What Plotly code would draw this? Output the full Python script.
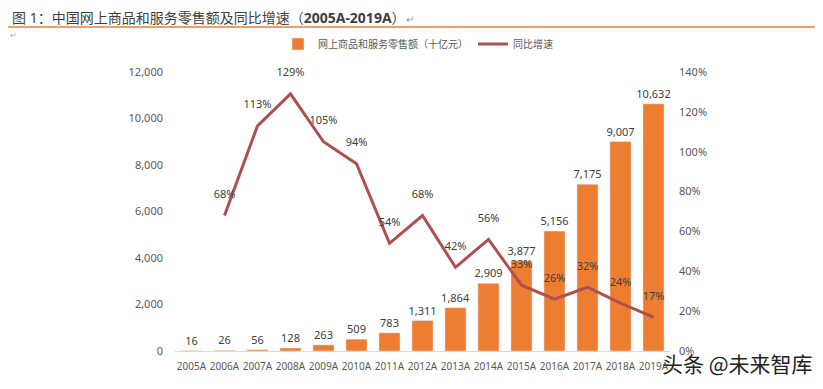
import plotly.graph_objects as go

years = ["2005A", "2006A", "2007A", "2008A", "2009A", "2010A", "2011A", "2012A",
         "2013A", "2014A", "2015A", "2016A", "2017A", "2018A", "2019A"]
sales = [16, 26, 56, 128, 263, 509, 783, 1311, 1864, 2909, 3877, 5156, 7175, 9007, 10632]
growth_years = years[1:]
growth = [68, 113, 129, 105, 94, 54, 68, 42, 56, 33, 26, 32, 24, 17]

bar_name = "网上商品和服务零售额（十亿元）"
line_name = "同比增速"
title_text = "图 1：中国网上商品和服务零售额及同比增速（<b>2005A-2019A</b>）<span style='font-size:10px;color:#999'>↵</span>"

FONT = "Noto Sans, Noto Sans CJK SC, sans-serif"
TXT = "#404040"
AX = "#595959"

# page body has an 8px default margin; layout is laid out in screen pixels minus that
OFF = 8
W, H = 823 - OFF, 389 - OFF
PL, PT, PW, PH = 175, 72, 495, 279  # plot area in screen pixels


def px(xs):
    return (xs - PL) / PW


def py(ys):
    return 1 - (ys - PT) / PH


fig = go.Figure()
fig.add_trace(go.Bar(
    x=years, y=sales, name=bar_name,
    marker=dict(color="#ED7D31"),
    width=0.64,
    text=[f"{v:,}" for v in sales], textposition="outside", constraintext="none",
    textfont=dict(size=11, color=TXT, family=FONT),
    cliponaxis=False,
))
fig.add_trace(go.Scatter(
    x=growth_years, y=growth, name=line_name, yaxis="y2",
    mode="lines+markers+text",
    line=dict(color="#B0504E", width=3),
    marker=dict(size=22, color="rgba(0,0,0,0)", line=dict(width=0)),
    text=[f"{v}%" for v in growth], textposition="top center",
    textfont=dict(size=11, color=TXT, family=FONT),
    cliponaxis=False,
))

fig.update_layout(
    width=W, height=H,
    margin=dict(l=PL - OFF, r=W - (PL - OFF) - PW, t=PT - OFF, b=H - (PT - OFF) - PH),
    paper_bgcolor="white", plot_bgcolor="white",
    font=dict(family=FONT, color=AX),
    title=dict(text=title_text, x=(12 - OFF) / W, xanchor="left",
               y=1 - (18 - OFF) / H, yanchor="middle",
               yref="container", xref="container",
               font=dict(size=14, color="#3f3f3f", family=FONT)),
    showlegend=True,
    legend=dict(orientation="h", x=px(278), xanchor="left",
                y=py(44), yanchor="middle",
                font=dict(size=10, color=AX, family=FONT),
                bgcolor="rgba(0,0,0,0)"),
    xaxis=dict(type="category", range=[-0.5, len(years) - 0.5], showgrid=False,
               showline=True, linecolor="#D9D9D9",
               tickfont=dict(size=10, color=AX), ticks="", tickangle=0, automargin=False,
               ticklabelstandoff=6),
    yaxis=dict(range=[0, 12000], dtick=2000, tickformat=",", showgrid=False,
               zeroline=False, showline=False, tickfont=dict(size=11, color=AX),
               automargin=False, ticklabelstandoff=11),
    yaxis2=dict(range=[0, 140], dtick=20, ticksuffix="%", overlaying="y", side="right",
                showgrid=False, zeroline=False, showline=False,
                tickfont=dict(size=11, color=AX), automargin=False, ticklabelstandoff=8),
    bargap=0.36,
)

fig.add_shape(type="line", xref="paper", yref="paper",
              x0=px(OFF), x1=px(823), y0=py(27), y1=py(27),
              line=dict(color="#ED7D31", width=1.5))
fig.add_annotation(text="↵", xref="paper", yref="paper", x=px(8), y=py(34),
                   xanchor="left", yanchor="middle", showarrow=False,
                   font=dict(size=8, color="#aaaaaa"))
fig.add_annotation(text="头条 @未来智库", xref="paper", yref="paper",
                   x=px(660), y=py(363), xanchor="left", yanchor="middle",
                   showarrow=False, font=dict(size=21, color="#222222", family="Noto Sans CJK SC"))

fig.write_html("out.html")
